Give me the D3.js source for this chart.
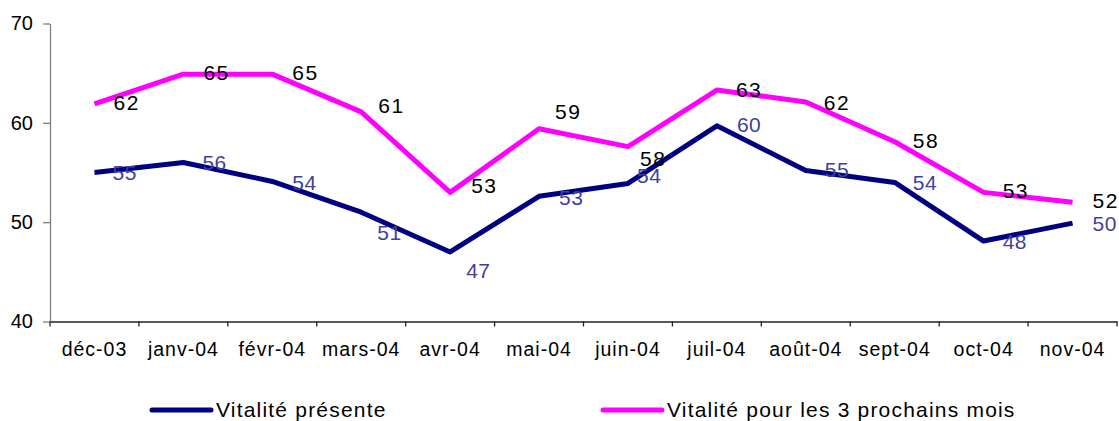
<!DOCTYPE html>
<html>
<head>
<meta charset="utf-8">
<script src="https://cdn.jsdelivr.net/npm/d3@7"></script>
<style>
  body { margin: 0; background: #fff; }
  svg { display: block; font-family: "Liberation Sans", Arial, sans-serif; }
</style>
</head>
<body>
<svg class="chart"></svg>
<script>
var months = ['déc-03', 'janv-04', 'févr-04', 'mars-04', 'avr-04', 'mai-04',
  'juin-04', 'juil-04', 'août-04', 'sept-04', 'oct-04', 'nov-04'];
var presente = [55.0, 56.0, 54.1, 51.0, 47.0, 52.6, 53.9, 59.7, 55.2, 54.0, 48.1, 49.9];
var presenteLabels = [55, 56, 54, 51, 47, 53, 54, 60, 55, 54, 48, 50];
var prochains = [61.9, 64.9, 64.9, 61.1, 53.0, 59.4, 57.6, 63.3, 62.1, 58.1, 53.0, 52.0];
var prochainsLabels = [62, 65, 65, 61, 53, 59, 58, 63, 62, 58, 53, 52];
var yTicks = [40, 50, 60, 70];
var seriesNames = ['Vitalité présente', 'Vitalité pour les 3 prochains mois'];

(function() {
  'use strict';
  var width = 1119,
      height = 421;

  var chart = d3.select('.chart')
      .attr('width', width)
      .attr('height', height);

  var x = d3.scaleBand()
      .domain(months)
      .range([50, 1117])
      .padding(0);

  var y = d3.scaleLinear()
      .domain([40, 70])
      .range([321.5, 23.5]);

  function cx(d, i) { return x(months[i]) + x.bandwidth() / 2; }

  // y axis
  var yAxis = chart.append('g')
      .attr('transform', 'translate(50,0)')
      .call(d3.axisLeft(y).tickValues(yTicks).tickSize(7).tickSizeOuter(0).tickPadding(10));
  yAxis.select('.domain').attr('stroke', '#808080').attr('stroke-width', 1.3);
  yAxis.selectAll('.tick line').attr('stroke', '#808080').attr('stroke-width', 1.3);
  yAxis.selectAll('.tick text')
      .attr('font-size', 20)
      .attr('fill', '#000')
      .attr('font-family', '"Liberation Sans", Arial, sans-serif');

  // x axis
  var xAxis = chart.append('g')
      .attr('transform', 'translate(0,' + y(40) + ')')
      .call(d3.axisBottom(x).tickSize(0).tickSizeOuter(0).tickPadding(21));
  xAxis.select('.domain').attr('stroke', '#222').attr('stroke-width', 1.3);
  xAxis.selectAll('.tick text')
      .attr('font-size', 19.5)
      .attr('letter-spacing', 1)
      .attr('fill', '#000')
      .attr('font-family', '"Liberation Sans", Arial, sans-serif');

  var bounds = months.map(function(m) { return x(m); }).concat([x.range()[1]]);
  xAxis.selectAll('.bound')
      .data(bounds)
    .enter().append('line')
      .attr('class', 'bound')
      .attr('x1', function(d) { return d; })
      .attr('x2', function(d) { return d; })
      .attr('y1', 0)
      .attr('y2', 5)
      .attr('stroke', '#222')
      .attr('stroke-width', 1.3);

  var line = d3.line()
      .x(cx)
      .y(function(d) { return y(d); });

  // label placement tweaks (Excel moved a few labels off the default spot)
  var series = [
    { values: prochains, labels: prochainsLabels, color: '#ff00ff', text: '#000', spacing: 1.5,
      dx: [0, 1, 1, -2, 2, -3, -7, 0, -1, -1, 0, 1],
      dy: [-2, -2, -2, -6, -7, -17, 12, -1, 0, -1, -2, -2] },
    { values: presente, labels: presenteLabels, color: '#000080', text: '#3f3f9f', spacing: 0.5,
      dx: [-1, 0, 1, -3, -3, 1, -10, 1, 0, -1, 0, 1],
      dy: [0, 0, 1, 20, 18, 1, -8, -1, -1, 0, 0, 0] }
  ];

  series.forEach(function(s) {
    chart.append('path')
        .datum(s.values)
        .attr('fill', 'none')
        .attr('stroke', s.color)
        .attr('stroke-width', 5)
        .attr('stroke-linejoin', 'round')
        .attr('d', line);
  });

  series.forEach(function(s) {
    chart.append('g').selectAll('text')
        .data(s.values)
      .enter().append('text')
        .attr('x', function(d, i) { return cx(d, i) + 19 + s.dx[i]; })
        .attr('y', function(d, i) { return y(d) + s.dy[i]; })
        .attr('dy', '0.36em')
        .attr('font-size', 21)
        .attr('letter-spacing', s.spacing)
        .attr('fill', s.text)
        .text(function(d, i) { return s.labels[i]; });
  });

  // legend
  var legend = chart.append('g');
  var legendX = [152, 603];
  var legendColors = ['#000080', '#ff00ff'];
  seriesNames.forEach(function(name, i) {
    legend.append('line')
        .attr('x1', legendX[i])
        .attr('x2', legendX[i] + 59)
        .attr('y1', 410)
        .attr('y2', 410)
        .attr('stroke', legendColors[i])
        .attr('stroke-width', 5)
        .attr('stroke-linecap', 'round');
    legend.append('text')
        .attr('x', legendX[i] + 64)
        .attr('y', 417)
        .attr('font-size', 21)
        .attr('letter-spacing', 1.2)
        .attr('fill', '#000')
        .text(name);
  });
}());
</script>
</body>
</html>
